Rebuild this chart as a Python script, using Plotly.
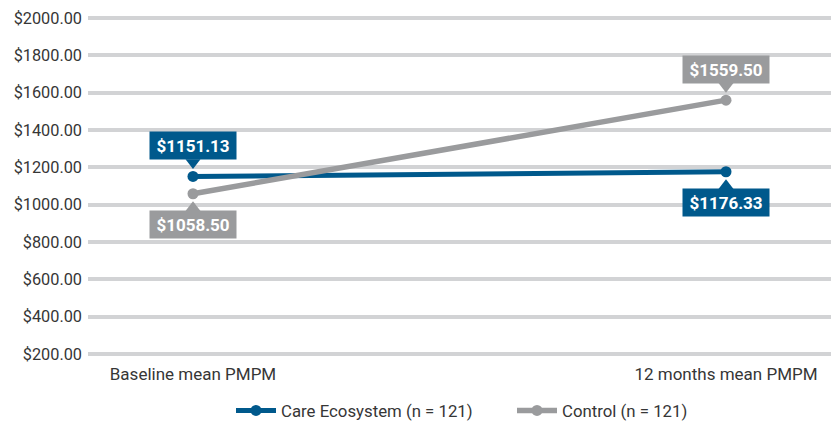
import plotly.graph_objects as go

categories = ["Baseline mean PMPM", "12 months mean PMPM"]
care_values = [1151.13, 1176.33]
control_values = [1058.50, 1559.50]
series_names = ["Care Ecosystem (n = 121)", "Control (n = 121)"]
tick_values = [200, 400, 600, 800, 1000, 1200, 1400, 1600, 1800, 2000]
tick_labels = ["$%.2f" % v for v in tick_values]

BLUE = "#00598c"
GRAY = "#9a9b9d"
GRID = "#d2d3d5"
FONT = "Roboto"
TEXT = "#363636"

# page body has an 8px margin, so the figure is offset by 8px in the window
OFF = 8
FIG_W, FIG_H = 831, 420
M_L, M_T = 88 - OFF, 16 - OFF
PLOT_H = 342
M_B = FIG_H - M_T - PLOT_H
PLOT_W = FIG_W - M_L

Y_MIN, Y_MAX = 190, 2010
px_per_unit = PLOT_H / (Y_MAX - Y_MIN)

xs = list(range(len(categories)))

fig = go.Figure()
fig.add_trace(go.Scatter(x=xs, y=care_values, mode="lines+markers", name=series_names[0],
                         line=dict(color=BLUE, width=5), marker=dict(color=BLUE, size=11),
                         hoverinfo="skip"))
fig.add_trace(go.Scatter(x=xs, y=control_values, mode="lines+markers", name=series_names[1],
                         line=dict(color=GRAY, width=5.5), marker=dict(color=GRAY, size=11),
                         hoverinfo="skip"))

# label positions: +1 above point, -1 below point
care_side = [1, -1]
control_side = [-1, 1]

def add_labels(values, sides, color):
    tri_y, tri_sym = [], []
    for i, (v, s) in enumerate(zip(values, sides)):
        fig.add_annotation(x=xs[i], y=v, text="<b>$%.2f</b>" % v, showarrow=False,
                           font=dict(family=FONT, size=17, color="white"),
                           bgcolor=color, borderpad=3, width=80, height=21,
                           yshift=31 * s)
        tri_y.append(v + s * 14 / px_per_unit)
        tri_sym.append("triangle-down" if s > 0 else "triangle-up")
    fig.add_trace(go.Scatter(x=xs, y=tri_y, mode="markers", showlegend=False, hoverinfo="skip",
                             marker=dict(symbol=tri_sym, size=13, color=color, line=dict(width=0))))

add_labels(care_values, care_side, BLUE)
add_labels(control_values, control_side, GRAY)

LEGEND_Y_WIN = 413
fig.update_layout(
    width=FIG_W, height=FIG_H,
    margin=dict(l=M_L, r=0, t=M_T, b=M_B),
    paper_bgcolor="white", plot_bgcolor="white",
    font=dict(family=FONT, size=16, color=TEXT),
    showlegend=True,
    legend=dict(orientation="h", xanchor="left", x=(231 - OFF - M_L) / PLOT_W,
                yanchor="middle", y=(PLOT_H + M_T - (LEGEND_Y_WIN - OFF)) / PLOT_H,
                font=dict(family=FONT, size=16.8, color=TEXT), traceorder="normal",
                itemwidth=40, entrywidth=226),
    xaxis=dict(range=[-0.197, 1.212], tickvals=xs, ticktext=categories, showgrid=False,
               zeroline=False, showline=False, ticks="", fixedrange=True, automargin=False,
               ticklabelstandoff=6,
               tickfont=dict(family=FONT, size=17, color=TEXT)),
    yaxis=dict(range=[Y_MIN, Y_MAX], tickvals=tick_values, ticktext=tick_labels,
               showgrid=True, gridcolor=GRID, gridwidth=4, zeroline=False, showline=False,
               ticks="", fixedrange=True, automargin=False, ticklabelstandoff=5,
               tickfont=dict(family=FONT, size=16.3, color=TEXT)),
)

fig.write_html("out.html")
